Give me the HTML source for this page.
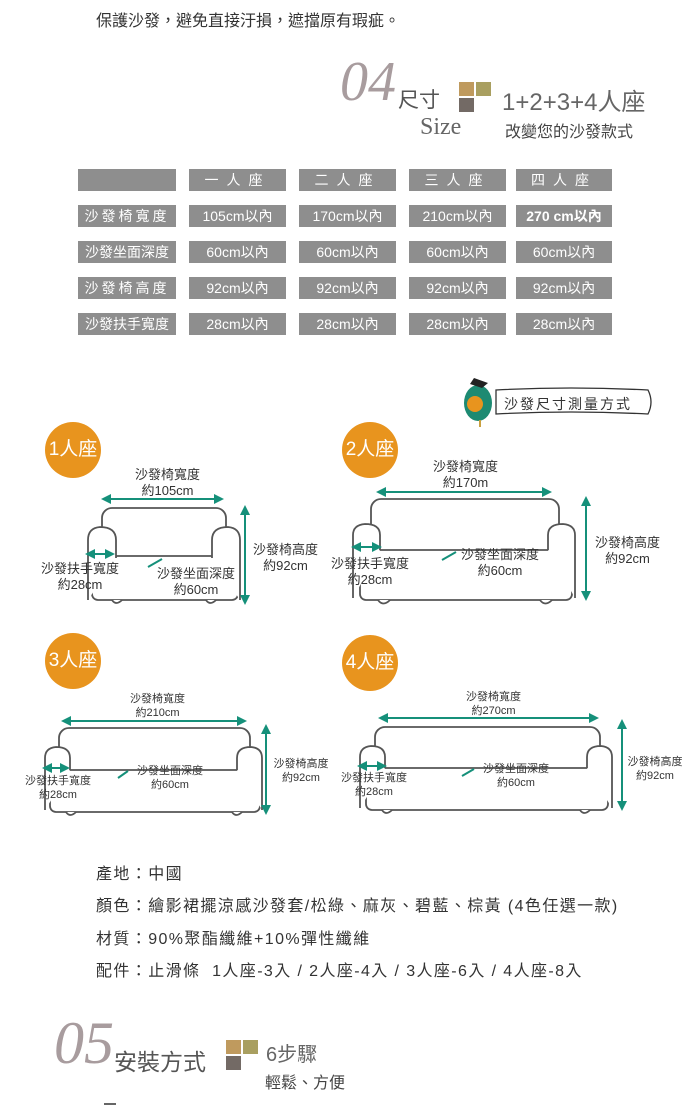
<!DOCTYPE html>
<html><head><meta charset="utf-8"><style>
body{margin:0;background:#fff;}
#c{position:relative;width:700px;height:1106px;overflow:hidden;font-family:"Liberation Sans","Noto Sans CJK TC",sans-serif;color:#333;}
.a{position:absolute;white-space:nowrap;}
.cell{position:absolute;background:#8e8e8e;color:#fff;font-size:14px;text-align:center;line-height:22px;height:22px;}
.circ{position:absolute;width:56px;height:56px;border-radius:50%;background:#e8941e;color:#fff;font-size:19px;text-align:center;line-height:56px;}
.lb{position:absolute;font-size:13px;color:#333;text-align:center;line-height:16px;white-space:nowrap;}
.sm{font-size:11px;line-height:14px;}
.inf{position:absolute;left:96px;font-size:16px;letter-spacing:1.4px;color:#333;white-space:nowrap;}
</style></head><body><div id="c">
<div class="a" style="left:96px;top:7px;font-size:16px;">保護沙發，避免直接汙損，遮擋原有瑕疵。</div>

<div class="a" style="left:340px;top:52px;font-family:'Liberation Serif',serif;font-style:italic;font-size:56px;color:#a89c9e;line-height:60px;">04</div>
<div class="a" style="left:398px;top:84px;font-size:21px;color:#555;">尺寸</div>
<div class="a" style="left:420px;top:114px;font-family:'Liberation Serif',serif;font-size:24px;color:#666;">Size</div>
<div class="a" style="left:459px;top:82px;width:15px;height:14px;background:#bf9a5e;"></div>
<div class="a" style="left:476px;top:82px;width:15px;height:14px;background:#a99f60;"></div>
<div class="a" style="left:459px;top:98px;width:15px;height:14px;background:#736a65;"></div>
<div class="a" style="left:502px;top:82px;font-size:24px;color:#666;">1+2+3+4人座</div>
<div class="a" style="left:505px;top:118px;font-size:16px;color:#444;">改變您的沙發款式</div>

<div class="cell" style="left:78px;top:169px;width:98px;"></div>
<div class="cell" style="left:189px;top:169px;width:97px;letter-spacing:8px;">一人座</div>
<div class="cell" style="left:299px;top:169px;width:97px;letter-spacing:8px;">二人座</div>
<div class="cell" style="left:409px;top:169px;width:97px;letter-spacing:8px;">三人座</div>
<div class="cell" style="left:516px;top:169px;width:96px;letter-spacing:8px;">四人座</div>

<div class="cell" style="left:78px;top:205px;width:98px;letter-spacing:3px;">沙發椅寬度</div>
<div class="cell" style="left:189px;top:205px;width:97px;">105cm以內</div>
<div class="cell" style="left:299px;top:205px;width:97px;">170cm以內</div>
<div class="cell" style="left:409px;top:205px;width:97px;">210cm以內</div>
<div class="cell" style="left:516px;top:205px;width:96px;font-weight:bold;">270 cm以內</div>

<div class="cell" style="left:78px;top:241px;width:98px;">沙發坐面深度</div>
<div class="cell" style="left:189px;top:241px;width:97px;">60cm以內</div>
<div class="cell" style="left:299px;top:241px;width:97px;">60cm以內</div>
<div class="cell" style="left:409px;top:241px;width:97px;">60cm以內</div>
<div class="cell" style="left:516px;top:241px;width:96px;">60cm以內</div>

<div class="cell" style="left:78px;top:277px;width:98px;letter-spacing:3px;">沙發椅高度</div>
<div class="cell" style="left:189px;top:277px;width:97px;">92cm以內</div>
<div class="cell" style="left:299px;top:277px;width:97px;">92cm以內</div>
<div class="cell" style="left:409px;top:277px;width:97px;">92cm以內</div>
<div class="cell" style="left:516px;top:277px;width:96px;">92cm以內</div>

<div class="cell" style="left:78px;top:313px;width:98px;">沙發扶手寬度</div>
<div class="cell" style="left:189px;top:313px;width:97px;">28cm以內</div>
<div class="cell" style="left:299px;top:313px;width:97px;">28cm以內</div>
<div class="cell" style="left:409px;top:313px;width:97px;">28cm以內</div>
<div class="cell" style="left:516px;top:313px;width:96px;">28cm以內</div>

<svg class="a" style="left:0;top:0" width="700" height="1106">
<defs>
<marker id="m" viewBox="0 0 10 10" refX="5" refY="5" markerWidth="5" markerHeight="5" orient="auto-start-reverse"><path d="M0,0L10,5L0,10z" fill="#15907a"/></marker>
</defs>
<path d="M496,390 Q570,386 648,390 Q654,402 648,414 Q570,410 496,414 Z" fill="#fff" stroke="#333" stroke-width="1.3"/>
<ellipse cx="478" cy="403" rx="14" ry="18" fill="#1d8a72"/>
<circle cx="475" cy="404" r="8" fill="#e8941e"/>
<path d="M474,378 L488,383 L482,388 L470,384Z" fill="#222"/>
<line x1="480" y1="420" x2="480" y2="427" stroke="#c9a040" stroke-width="2"/>
<g fill="#fff" stroke="#555" stroke-width="1.8">
<rect x="102" y="508" width="124" height="60" rx="10"/>
<rect x="92" y="556" width="146" height="44" rx="6"/>
<path d="M88,600 L88,540 Q88,528 100,527 Q116,527 116,540 L116,558"/>
<path d="M240,600 L240,540 Q240,528 228,527 Q212,527 212,540 L212,558"/>
<path d="M112,600 Q116,606 122,600 M206,600 Q210,606 216,600"/>
<rect x="371" y="499" width="188" height="60" rx="10"/>
<rect x="360" y="550" width="212" height="50" rx="6"/>
<path d="M353,598 L353,535 Q353,525 365,524 Q380,524 380,535 L380,550"/>
<path d="M575,598 L575,535 Q575,525 563,524 Q548,524 548,535 L548,550"/>
<path d="M378,600 Q383,607 390,600 M540,600 Q545,607 552,600"/>
<rect x="59" y="728" width="191" height="50" rx="10"/>
<rect x="50" y="770" width="210" height="42" rx="6"/>
<path d="M45,810 L45,758 Q45,748 56,747 Q70,747 70,758 L70,770"/>
<path d="M262,810 L262,758 Q262,748 251,747 Q237,747 237,758 L237,770"/>
<path d="M66,812 Q70,818 76,812 M232,812 Q236,818 242,812"/>
<rect x="375" y="727" width="225" height="50" rx="10"/>
<rect x="366" y="768" width="242" height="42" rx="6"/>
<path d="M360,808 L360,757 Q360,747 371,746 Q385,746 385,757 L385,768"/>
<path d="M612,808 L612,757 Q612,747 601,746 Q587,746 587,757 L587,768"/>
<path d="M382,810 Q386,816 392,810 M580,810 Q584,816 590,810"/>
</g>
<g stroke="#15907a" stroke-width="2" fill="none" marker-start="url(#m)" marker-end="url(#m)">
<line x1="106" y1="499" x2="219" y2="499"/><line x1="245" y1="510" x2="245" y2="600"/><line x1="90" y1="554" x2="110" y2="554"/>
<line x1="381" y1="492" x2="547" y2="492"/><line x1="586" y1="501" x2="586" y2="596"/><line x1="356" y1="547" x2="377" y2="547"/>
<line x1="66" y1="721" x2="242" y2="721"/><line x1="266" y1="729" x2="266" y2="810"/><line x1="47" y1="768" x2="65" y2="768"/>
<line x1="383" y1="718" x2="594" y2="718"/><line x1="622" y1="724" x2="622" y2="806"/><line x1="362" y1="766" x2="382" y2="766"/>
</g>
<g stroke="#15907a" stroke-width="2">
<line x1="148" y1="567" x2="162" y2="559"/><line x1="442" y1="560" x2="456" y2="552"/>
<line x1="118" y1="778" x2="128" y2="771"/><line x1="462" y1="776" x2="474" y2="769"/>
</g>
</svg>
<div class="a" style="left:504px;top:394px;font-size:14px;letter-spacing:2px;">沙發尺寸測量方式</div>

<div class="circ" style="left:45px;top:422px;">1人座</div>
<div class="circ" style="left:342px;top:422px;">2人座</div>
<div class="circ" style="left:45px;top:633px;">3人座</div>
<div class="circ" style="left:342px;top:635px;">4人座</div>

<div class="lb" style="left:120px;top:467px;width:95px;">沙發椅寬度<br>約105cm</div>
<div class="lb" style="left:248px;top:542px;width:75px;">沙發椅高度<br>約92cm</div>
<div class="lb" style="left:36px;top:561px;width:88px;">沙發扶手寬度<br>約28cm</div>
<div class="lb" style="left:152px;top:566px;width:88px;">沙發坐面深度<br>約60cm</div>

<div class="lb" style="left:418px;top:459px;width:95px;">沙發椅寬度<br>約170m</div>
<div class="lb" style="left:590px;top:535px;width:75px;">沙發椅高度<br>約92cm</div>
<div class="lb" style="left:326px;top:556px;width:88px;">沙發扶手寬度<br>約28cm</div>
<div class="lb" style="left:456px;top:547px;width:88px;">沙發坐面深度<br>約60cm</div>

<div class="lb sm" style="left:110px;top:692px;width:95px;">沙發椅寬度<br>約210cm</div>
<div class="lb sm" style="left:268px;top:757px;width:66px;">沙發椅高度<br>約92cm</div>
<div class="lb sm" style="left:20px;top:774px;width:76px;">沙發扶手寬度<br>約28cm</div>
<div class="lb sm" style="left:132px;top:764px;width:76px;">沙發坐面深度<br>約60cm</div>

<div class="lb sm" style="left:446px;top:690px;width:95px;">沙發椅寬度<br>約270cm</div>
<div class="lb sm" style="left:622px;top:755px;width:66px;">沙發椅高度<br>約92cm</div>
<div class="lb sm" style="left:336px;top:771px;width:76px;">沙發扶手寬度<br>約28cm</div>
<div class="lb sm" style="left:478px;top:762px;width:76px;">沙發坐面深度<br>約60cm</div>

<div class="inf" style="top:860px;">產地：中國</div>
<div class="inf" style="top:892px;">顏色：繪影裙擺涼感沙發套/松綠、麻灰、碧藍、棕黃 (4色任選一款)</div>
<div class="inf" style="top:925px;">材質：90%聚酯纖維+10%彈性纖維</div>
<div class="inf" style="top:957px;">配件：止滑條&nbsp; 1人座-3入 / 2人座-4入 / 3人座-6入 / 4人座-8入</div>

<div class="a" style="left:54px;top:1010px;font-family:'Liberation Serif',serif;font-style:italic;font-size:60px;color:#a89c9e;line-height:66px;">05</div>
<div class="a" style="left:114px;top:1043px;font-size:23px;color:#555;">安裝方式</div>
<div class="a" style="left:226px;top:1040px;width:15px;height:14px;background:#bf9a5e;"></div>
<div class="a" style="left:243px;top:1040px;width:15px;height:14px;background:#a99f60;"></div>
<div class="a" style="left:226px;top:1056px;width:15px;height:14px;background:#736a65;"></div>
<div class="a" style="left:266px;top:1038px;font-size:20px;color:#666;">6步驟</div>
<div class="a" style="left:265px;top:1069px;font-size:16px;color:#444;">輕鬆、方便</div>
<div class="a" style="left:104px;top:1103px;width:12px;height:2px;background:#666;"></div>
</div></body></html>
